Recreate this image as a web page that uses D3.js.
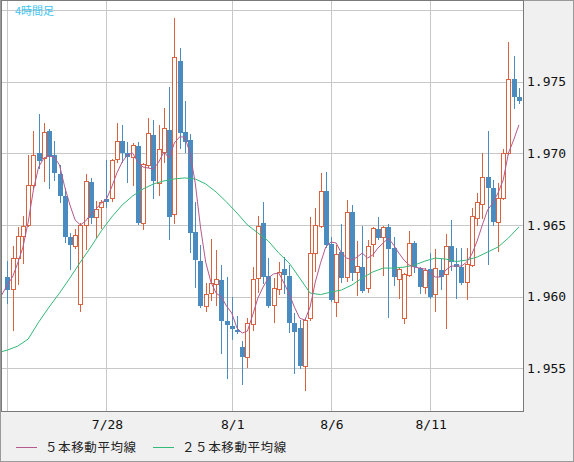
<!DOCTYPE html>
<head>
<meta charset="utf-8">
<title>4時間足</title>
<style>
html, body { margin:0; padding:0; overflow:hidden; background-color:#f0f0f0; }
svg { position:fixed; top:0; left:0; }
.ylab, .xlab { font-family:'DejaVu Sans Mono', monospace; font-size:13px; fill:#111; }
.leg { font-family:'Noto Sans CJK JP', sans-serif; font-size:12.5px; fill:#222; letter-spacing:0.6px; }
.ttl { font-family:'Noto Sans CJK JP', sans-serif; font-size:11px; fill:#3ec4ee; }
</style>
</head>
<body>
<svg id="stage" width="574" height="462"></svg>
<script src="https://d3js.org/d3.v7.min.js"></script>
<script>

// 4h candles, index 0..98
var open = [1.96137,1.96053,1.96269,1.96423,1.96500,1.96779,1.97002,1.96967,1.97156,1.96988,
1.96856,1.96702,1.96416,1.96353,1.95948,1.96500,1.96800,1.96555,1.96625,1.96681,
1.96688,1.96960,1.97086,1.97002,1.96974,1.97051,1.96514,1.96918,1.97128,1.96793,
1.97009,1.97163,1.96576,1.97644,1.97149,1.97093,1.96451,1.96248,1.95934,1.96025,
1.96088,1.96116,1.95829,1.95795,1.95767,1.95648,1.95578,1.95809,1.96130,1.96514,
1.96144,1.95941,1.96053,1.96192,1.96144,1.95815,1.95781,1.95515,1.95850,1.96304,
1.96493,1.96737,1.96367,1.95962,1.96311,1.96137,1.96590,1.96172,1.96206,1.96060,
1.96367,1.96472,1.96416,1.96486,1.96339,1.96123,1.95850,1.96151,1.96374,1.96199,
1.96067,1.96192,1.96018,1.96185,1.96158,1.96353,1.96227,1.96206,1.96102,1.96220,
1.96548,1.96646,1.96835,1.96758,1.96520,1.96688,1.97002,1.97519,1.97393];

var high = [1.96248,1.96353,1.96486,1.96562,1.96988,1.97156,1.97274,1.97211,1.97170,1.97086,
1.96918,1.96758,1.96444,1.96472,1.96514,1.96856,1.96828,1.96667,1.96674,1.96953,
1.96960,1.97211,1.97198,1.97079,1.97072,1.97079,1.96932,1.97246,1.97232,1.97198,
1.97316,1.97463,1.97944,1.97735,1.97365,1.97135,1.96660,1.96360,1.96095,1.96402,
1.96325,1.96220,1.96137,1.95997,1.95864,1.95690,1.95850,1.96206,1.96562,1.96660,
1.96269,1.96130,1.96241,1.96276,1.96220,1.95885,1.95836,1.95850,1.96555,1.96618,
1.96863,1.96869,1.96416,1.96360,1.96507,1.96674,1.96639,1.96388,1.96493,1.96395,
1.96486,1.96555,1.96493,1.96507,1.96416,1.96199,1.96165,1.96458,1.96388,1.96206,
1.96199,1.96304,1.96332,1.96262,1.96437,1.96534,1.96339,1.96339,1.96339,1.96618,
1.96723,1.97002,1.97156,1.96814,1.96793,1.97030,1.97777,1.97679,1.97456];

var low = [1.95955,1.95767,1.96088,1.96234,1.96493,1.96751,1.96897,1.96807,1.96758,1.96814,
1.96660,1.96381,1.96192,1.96339,1.95899,1.96332,1.96514,1.96416,1.96479,1.96625,
1.96667,1.96939,1.96939,1.96800,1.96779,1.96510,1.96472,1.96904,1.96688,1.96709,
1.96939,1.96402,1.96514,1.97037,1.97009,1.96311,1.96067,1.95927,1.95899,1.95976,
1.95941,1.95606,1.95432,1.95704,1.95746,1.95390,1.95508,1.95767,1.96032,1.96095,
1.95930,1.95822,1.96018,1.96025,1.95753,1.95467,1.95501,1.95348,1.95836,1.96178,
1.96486,1.96346,1.95972,1.95864,1.96102,1.96109,1.96116,1.96011,1.96035,1.96032,
1.96283,1.96402,1.96151,1.95857,1.96081,1.95990,1.95815,1.96144,1.96172,1.96025,
1.96025,1.95993,1.95899,1.96053,1.95781,1.96185,1.95990,1.96088,1.95983,1.96213,
1.96500,1.96548,1.96227,1.96500,1.96318,1.96681,1.96995,1.97316,1.97351];

var close = [1.96046,1.96269,1.96423,1.96493,1.96779,1.96988,1.96946,1.97149,1.96974,1.96863,
1.96702,1.96416,1.96360,1.96430,1.96500,1.96807,1.96548,1.96611,1.96660,1.96660,
1.96953,1.97086,1.97002,1.96974,1.97058,1.96514,1.96925,1.97142,1.96807,1.97030,
1.97177,1.96555,1.97672,1.97142,1.97079,1.96444,1.96255,1.95934,1.96018,1.96095,
1.96123,1.95829,1.95802,1.95774,1.95753,1.95578,1.95815,1.96123,1.96493,1.96137,
1.95934,1.96060,1.96172,1.96151,1.95815,1.95753,1.95515,1.95836,1.96304,1.96500,
1.96737,1.96360,1.95976,1.96297,1.96130,1.96590,1.96165,1.96213,1.96039,1.96353,
1.96479,1.96409,1.96486,1.96332,1.96137,1.96192,1.96158,1.96374,1.96206,1.96067,
1.96185,1.95997,1.96199,1.96137,1.96353,1.96241,1.96206,1.96095,1.96227,1.96562,
1.96660,1.96835,1.96758,1.96520,1.96688,1.97002,1.97519,1.97393,1.97365];

// moving averages (first point sits at the left edge)
var ma5Idx = [-1.4].concat(d3.range(0, 99));
var ma5 = [1.95990,
1.96081,1.96137,1.96234,1.96346,1.96520,1.96744,1.96904,1.96967,1.96981,1.96974,
1.96918,1.96765,1.96639,1.96534,1.96500,1.96527,1.96576,1.96611,1.96653,1.96681,
1.96765,1.96863,1.96939,1.96988,1.97002,1.96939,1.96904,1.96897,1.96890,1.96939,
1.97009,1.96967,1.97072,1.97114,1.97114,1.97002,1.96793,1.96486,1.96241,1.96102,
1.96025,1.95997,1.95934,1.95885,1.95781,1.95746,1.95760,1.95871,1.95990,1.96067,
1.96130,1.96158,1.96165,1.96095,1.96018,1.95927,1.95850,1.95836,1.95927,1.96102,
1.96234,1.96346,1.96381,1.96374,1.96304,1.96269,1.96255,1.96276,1.96304,1.96269,
1.96290,1.96339,1.96374,1.96409,1.96360,1.96304,1.96255,1.96220,1.96206,1.96199,
1.96192,1.96165,1.96137,1.96137,1.96185,1.96213,1.96213,1.96213,1.96241,1.96297,
1.96388,1.96500,1.96604,1.96653,1.96723,1.96814,1.97002,1.97093,1.97198];

var ma25Idx = [-1.4,0,2,4,6,8,10,12,14,16,18,20,22,24,26,28,30,32,34,36,38,40,42,44,46,48,
50,52,54,56,58,60,62,64,66,68,70,72,74,76,78,80,82,84,86,88,90,92,94,96,98];
var ma25 = [1.95613,1.95627,1.95655,1.95704,1.95822,1.95927,1.96025,1.96130,1.96241,1.96346,
1.96458,1.96555,1.96639,1.96702,1.96751,1.96786,1.96807,1.96821,1.96828,1.96821,
1.96786,1.96730,1.96660,1.96583,1.96500,1.96444,1.96388,1.96304,1.96234,1.96130,
1.96025,1.96014,1.96032,1.96046,1.96081,1.96130,1.96172,1.96199,1.96199,1.96206,
1.96220,1.96248,1.96269,1.96262,1.96245,1.96255,1.96276,1.96311,1.96346,1.96409,1.96486];

// date gridlines (first one has no label showing)
var dateIdx = [0, 19, 43, 62, 81];
var dateLabels = ["", "7/28", "8/1", "8/6", "8/11"];
var priceTicks = [1.955, 1.960, 1.965, 1.970, 1.975, 1.980];

var upColor = "#d9623f",
    downColor = "#4a8cc0",
    ma5Color = "#b45a8c",
    ma25Color = "#33b978";

var svg = d3.select("#stage");

// outer frame
svg.append("rect").attr("x", 0.5).attr("y", 0.5).attr("width", 573).attr("height", 461)
  .attr("fill", "#f0f0f0").attr("stroke", "#9a9a9a");

var plot = { l: 1, t: 1, r: 523, b: 411 };

svg.append("rect").attr("x", plot.l + 0.5).attr("y", plot.t - 0.5)
  .attr("width", plot.r - plot.l).attr("height", plot.b - plot.t + 1)
  .attr("fill", "#fff").attr("stroke", "#7a7a7a");

svg.append("clipPath").attr("id", "clip").append("rect")
  .attr("x", plot.l + 1).attr("y", plot.t).attr("width", plot.r - plot.l - 1).attr("height", plot.b - plot.t);

var x = d3.scaleLinear().domain([0, 98]).range([7.3, 518.9]);
var y = d3.scaleLinear().domain([1.955, 1.975]).range([368.3, 81.6]);

var px = function(v) { return Math.round(v) + 0.5; };

var g = svg.append("g").attr("clip-path", "url(#clip)");

// grid
g.selectAll(".hg").data(priceTicks).enter().append("line")
  .attr("x1", plot.l).attr("x2", plot.r)
  .attr("y1", function(d) { return px(y(d)); }).attr("y2", function(d) { return px(y(d)); })
  .attr("stroke", "#c8c8c8");
g.selectAll(".vg").data(dateIdx).enter().append("line")
  .attr("y1", plot.t).attr("y2", plot.b)
  .attr("x1", function(d) { return px(x(d)); }).attr("x2", function(d) { return px(x(d)); })
  .attr("stroke", "#c8c8c8");

// candles
var idx = d3.range(open.length);
var cg = g.selectAll(".c").data(idx).enter().append("g");

cg.append("line")
  .attr("x1", function(i) { return px(x(i)); }).attr("x2", function(i) { return px(x(i)); })
  .attr("y1", function(i) { return Math.round(y(high[i])); })
  .attr("y2", function(i) { return Math.round(y(low[i])) + 1; })
  .attr("stroke", function(i) { return close[i] >= open[i] ? upColor : downColor; });

cg.append("rect")
  .attr("x", function(i) { return close[i] >= open[i] ? Math.round(x(i)) - 1.5 : Math.round(x(i)) - 1.5; })
  .attr("y", function(i) { return Math.round(y(Math.max(open[i], close[i]))) + (close[i] >= open[i] ? 0.5 : 0); })
  .attr("width", function(i) { return close[i] >= open[i] ? 4 : 5; })
  .attr("height", function(i) {
    var h = Math.abs(Math.round(y(open[i])) - Math.round(y(close[i])));
    return Math.max(h, 1);
  })
  .attr("fill", function(i) { return close[i] >= open[i] ? "#fff" : downColor; })
  .attr("stroke", function(i) { return close[i] >= open[i] ? upColor : "none"; })
  .attr("transform", function(i) { return close[i] >= open[i] ? "" : "translate(-0.5,0)"; });

// moving averages
var line = d3.line()
  .x(function(d) { return x(d[0]); })
  .y(function(d) { return y(d[1]); });

g.append("path").datum(d3.zip(ma25Idx, ma25)).attr("d", line)
  .attr("fill", "none").attr("stroke", ma25Color).attr("stroke-width", 1);
g.append("path").datum(d3.zip(ma5Idx, ma5)).attr("d", line)
  .attr("fill", "none").attr("stroke", ma5Color).attr("stroke-width", 1);

// title
svg.append("text").attr("class", "ttl").attr("x", 15).attr("y", 15).text("4時間足");

// price labels
svg.selectAll(".ylab").data(priceTicks.filter(function(d) { return d < 1.98; })).enter().append("text")
  .attr("class", "ylab").attr("x", 527).attr("y", function(d) { return y(d); })
  .attr("dy", "0.36em").text(function(d) { return d.toFixed(3); });

// date labels
svg.selectAll(".xlab").data(dateIdx.slice(1)).enter().append("text")
  .attr("class", "xlab").attr("text-anchor", "middle")
  .attr("x", function(d) { return x(d) + 1; }).attr("y", 429)
  .text(function(d) { return dateLabels[dateIdx.indexOf(d)]; });

// legend
var legend = [["５本移動平均線", ma5Color, 16], ["２５本移動平均線", ma25Color, 153]];
legend.forEach(function(l) {
  svg.append("line").attr("x1", l[2]).attr("x2", l[2] + 21).attr("y1", 447.5).attr("y2", 447.5)
    .attr("stroke", l[1]);
  svg.append("text").attr("class", "leg").attr("x", l[2] + 29).attr("y", 452).text(l[0]);
});

</script>
</body>
